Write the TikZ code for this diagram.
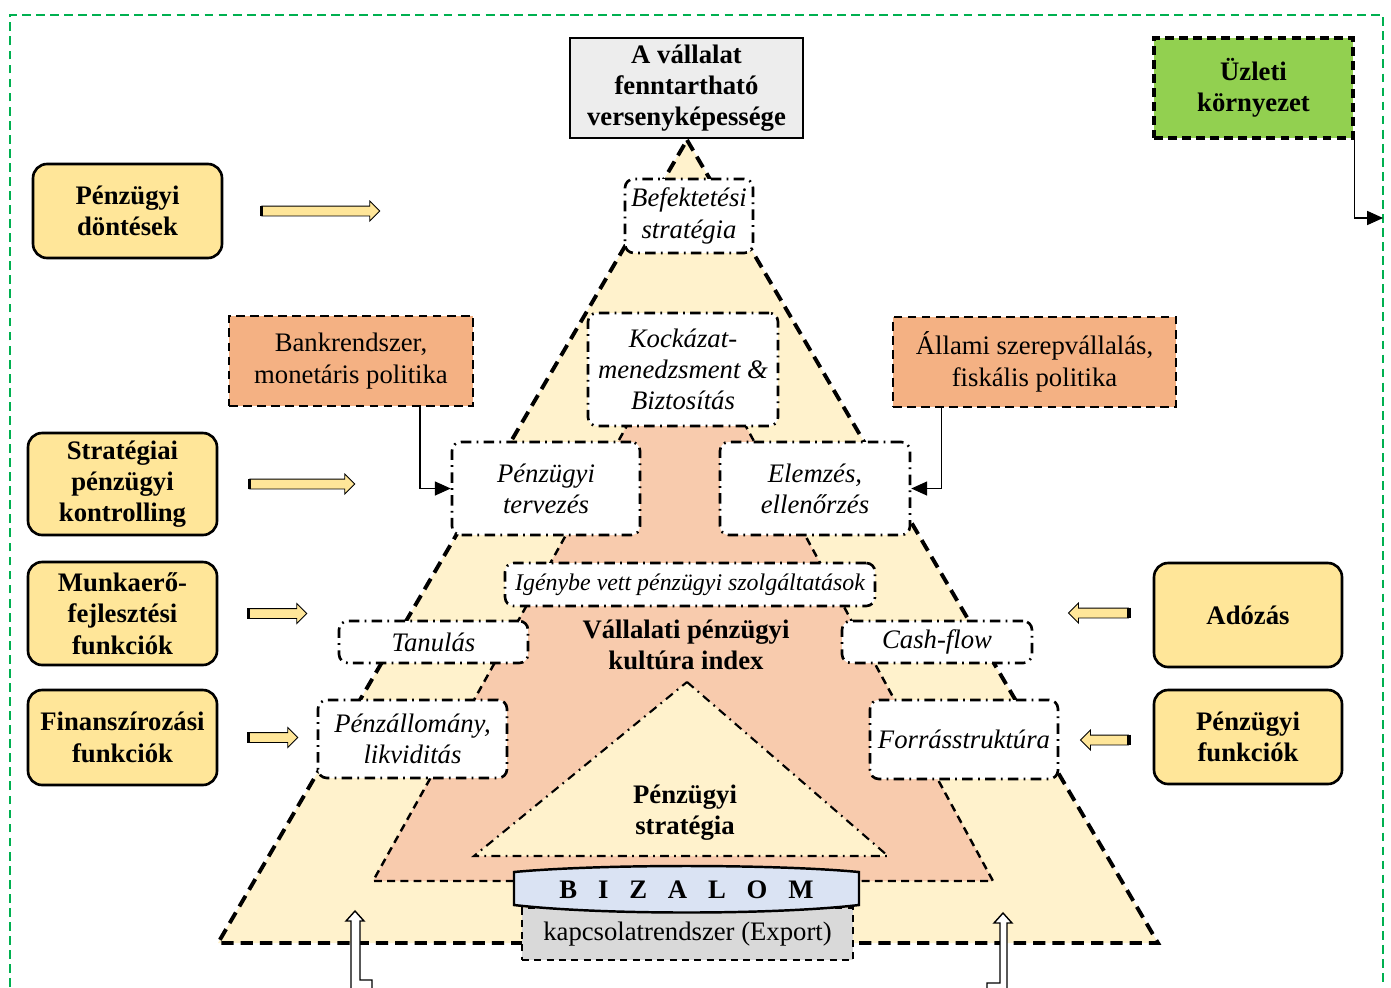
\documentclass[tikz,border=0pt]{standalone}
\usepackage{fontspec}
\setmainfont{Liberation Serif}
\usepackage{xcolor}
\usepackage{tikz}
\usetikzlibrary{shapes.arrows, arrows.meta, positioning}

\definecolor{pyrfill}{HTML}{FFF2CC}
\definecolor{culturefill}{HTML}{F8CBAD}
\definecolor{factorfill}{HTML}{FFE699}
\definecolor{policyfill}{HTML}{F4B183}
\definecolor{envfill}{HTML}{92D050}
\definecolor{goalfill}{HTML}{EDEDED}
\definecolor{trustfill}{HTML}{DAE3F3}
\definecolor{relfill}{HTML}{D9D9D9}
\definecolor{framegreen}{HTML}{00B050}

\newcommand{\bgap}{\hspace{0.78em}}

\begin{document}
\begin{tikzpicture}[
    x=0.02cm, y=-0.02cm,
    txt/.style={font=\fontsize{15.2}{17.8}\selectfont},
    bold/.style={font=\fontsize{15.2}{17.8}\selectfont\bfseries},
    factorbox/.style={rectangle, draw, rounded corners=8pt, line width=1.5pt, fill=factorfill, align=center, minimum width=3.78cm, inner sep=2pt, bold},
    policybox/.style={rectangle, draw, line width=1.5pt, dash pattern=on 5pt off 3pt, fill=policyfill, align=center, minimum height=1.8cm, inner sep=2pt, txt},
    tierbox/.style={rectangle, draw, rounded corners=5pt, line width=1.5pt, dash pattern=on 6pt off 3pt on 1pt off 3pt, fill=white, align=center, inner sep=1pt, font=\fontsize{15.2}{17.8}\selectfont\itshape},
    blockarrow/.style={single arrow, draw, line width=0.5pt, fill=factorfill, single arrow head extend=0.1cm, single arrow tip angle=90, inner xsep=0pt, inner ysep=0.09cm},
    conn/.style={-{Triangle[length=9pt, width=8pt]}, line width=0.6pt},
    hollowarrow/.style={draw, fill=white, line width=0.8pt}
]
\useasboundingbox (0,0) rectangle (1391,987);

% Frame
\draw[framegreen, line width=1pt, dash pattern=on 5pt off 3pt] (10,987) -- (10,15) -- (1383,15) -- (1383,987);
\coordinate (envin) at (1383,218);

% Pyramid layers
\draw[fill=pyrfill, line width=2.2pt, dash pattern=on 7pt off 4pt] (687,140) -- (1158,943) -- (218,943) -- cycle;
\draw[fill=culturefill, line width=1.4pt, dash pattern=on 4.5pt off 3pt] (687,318) -- (993,881) -- (373,881) -- cycle;
\draw[fill=pyrfill, line width=1.2pt, dash pattern=on 5pt off 3pt on 1pt off 3pt] (687,682) -- (888,856) -- (474,856) -- cycle;

% Base
\node[rectangle, draw, line width=1.3pt, dash pattern=on 4pt off 3pt, fill=relfill, minimum width=6.62cm, minimum height=1.04cm, txt] (export) at (687.5,934) {kapcsolatrendszer (Export)};
\draw[fill=trustfill, line width=1.4pt] (514,872) .. controls (600,864) and (773,864) .. (859,872) -- (859,905) .. controls (773,915) and (600,915) .. (514,905) -- cycle;
\node[bold] (trust) at (686.5,890) {B\bgap I\bgap Z\bgap A\bgap L\bgap O\bgap M};

% Tiers
\node[tierbox, minimum width=2.56cm, minimum height=1.48cm] (invest) at (689,216) {Befektetési\\stratégia};
\node[tierbox, minimum width=3.8cm, minimum height=2.26cm] (risk) at (683,369.5) {Kockázat-\\menedzsment \&\\Biztosítás};
\node[tierbox, minimum width=3.76cm, minimum height=1.86cm] (plan) at (546,488.5) {Pénzügyi\\tervezés};
\node[tierbox, minimum width=3.8cm, minimum height=1.86cm] (check) at (815,488.5) {Elemzés,\\ellenőrzés};
\node[tierbox, minimum width=7.4cm, minimum height=0.86cm, font=\fontsize{13.6}{16}\selectfont\itshape] (services) at (690,584.5) {Igénybe vett pénzügyi szolgáltatások};
\node[tierbox, minimum width=3.78cm, minimum height=0.84cm] (learn) at (433.5,642) {Tanulás};
\node[tierbox, minimum width=3.8cm, minimum height=0.84cm] (cash) at (937,642) {Cash-flow};
\node[tierbox, minimum width=3.78cm, minimum height=1.56cm] (liquid) at (412.5,739) {Pénzállomány,\\likviditás};
\node[tierbox, minimum width=3.76cm, minimum height=1.58cm] (funds) at (964,739.5) {Forrásstruktúra};

\node[bold, align=center] (culture) at (686,645) {Vállalati pénzügyi\\kultúra index};
\node[bold, align=center] (finstrat) at (685,813) {Pénzügyi\\stratégia};

% Top
\node[rectangle, draw, line width=1.5pt, fill=goalfill, minimum width=4.66cm, minimum height=2cm, align=center, inner sep=2pt, bold] (goal) at (686.5,88) {A vállalat\\fenntartható\\versenyképessége};
\node[policybox, fill=envfill, line width=1.8pt, minimum width=3.98cm, minimum height=2cm, bold] (business) at (1253.5,88) {Üzleti\\környezet};

% Policy
\node[policybox, minimum width=4.88cm] (bank) at (351,361) {Bankrendszer,\\monetáris politika};
\node[policybox, minimum width=5.66cm] (state) at (1034.5,362) {Állami szerepvállalás,\\fiskális politika};

% Factors left
\node[factorbox, minimum height=1.88cm] (decisions) at (127.5,211) {Pénzügyi\\döntések};
\node[factorbox, minimum height=2.04cm] (control) at (122.5,484) {Stratégiai\\pénzügyi\\kontrolling};
\node[factorbox, minimum height=2.06cm] (labour) at (122.5,613.5) {Munkaerő-\\fejlesztési\\funkciók};
\node[factorbox, minimum height=1.9cm] (financing) at (122.5,737.5) {Finanszírozási\\funkciók};

% Factors right
\node[factorbox, minimum width=3.76cm, minimum height=2.08cm] (tax) at (1248,615) {Adózás};
\node[factorbox, minimum width=3.76cm, minimum height=1.88cm] (finfunc) at (1248,737) {Pénzügyi\\funkciók};

% Block arrows
\node[blockarrow, minimum height=2.36cm, right=0.76cm of decisions] (arrdec) {};
\node[blockarrow, minimum height=2.1cm, right=0.62cm of control] (arrcon) {};
\node[blockarrow, minimum height=1.16cm, right=0.6cm of labour] (arrlab) {};
\node[blockarrow, minimum height=0.98cm, right=0.6cm of financing] (arrfin) {};
\node[blockarrow, minimum height=1.2cm, rotate=180] (arrtax) at (1101,613) {};
\node[blockarrow, minimum height=0.96cm, rotate=180] (arrfunc) at (1107,740) {};
\foreach \a in {arrdec, arrcon, arrlab, arrfin, arrtax, arrfunc}
    \draw[line width=2pt] (\a.before tail) -- (\a.after tail);

% Connectors
\draw[conn] ([xshift=1.38cm]bank.south) |- (plan.west);
\draw[conn] ([xshift=-1.87cm]state.south) |- (check.east);
\draw[conn] (business.south east) |- (envin);

% Bottom arrows
\draw[hollowarrow] (355,911) -- (364,921) -- (360,921) -- (360,980) -- (372,980) -- (372,992) -- (351,992) -- (351,921) -- (346,921) -- cycle;
\draw[hollowarrow] (1003,913) -- (1012,923) -- (1007,923) -- (1007,992) -- (987,992) -- (987,983) -- (1000,983) -- (1000,923) -- (994,923) -- cycle;

\end{tikzpicture}
\end{document}
